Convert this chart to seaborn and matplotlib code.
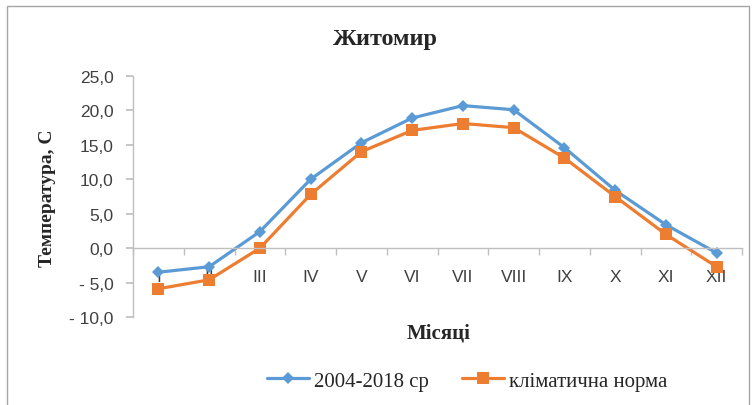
import matplotlib
matplotlib.use("Agg")
import matplotlib.pyplot as plt
import seaborn as sns
import pandas as pd
from matplotlib.ticker import FuncFormatter, FixedLocator
from matplotlib.patches import Rectangle
from matplotlib.lines import Line2D

months = ["I", "II", "III", "IV", "V", "VI", "VII", "VIII", "IX", "X", "XI", "XII"]
avg_2004_2018 = [-3.5, -2.7, 2.4, 10.0, 15.3, 18.9, 20.7, 20.1, 14.6, 8.4, 3.4, -0.7]
climate_norm = [-5.9, -4.6, 0.0, 7.8, 14.0, 17.1, 18.1, 17.5, 13.1, 7.5, 2.0, -2.7]
series_names = ["2004-2018 ср", "кліматична норма"]
title = "Житомир"
xlabel = "Місяці"
ylabel = "Температура, С"

df = pd.DataFrame({
    "month": months * 2,
    "pos": list(range(len(months))) * 2,
    "temp": avg_2004_2018 + climate_norm,
    "series": [series_names[0]] * len(months) + [series_names[1]] * len(months),
})

sns.set_theme(style="white")
plt.rcParams["font.family"] = ["Liberation Sans", "DejaVu Sans"]

blue = "#5B9BD5"
orange = "#ED7D31"
gray = "#BFBFBF"

fig = plt.figure(figsize=(7.56, 4.06), dpi=100)
ax = fig.add_axes([133 / 756, 1 - 318 / 406, (742 - 133) / 756, (318 - 77) / 406])

sns.lineplot(data=df, x="pos", y="temp", hue="series", style="series",
             palette=[blue, orange], markers=["D", "s"], dashes=False,
             linewidth=2.3, markersize=6, markeredgewidth=0, ax=ax, legend=False)
lines = ax.get_lines()
if len(lines) >= 2:
    lines[0].set_markersize(6)
    lines[1].set_markersize(8)

ax.set_xlim(-0.5, len(months) - 0.5)
ax.set_ylim(-10, 25)
ax.set_yticks(range(-10, 30, 5))
ax.yaxis.set_major_formatter(FuncFormatter(
    lambda v, p: ("- " if v < 0 else "") + f"{abs(v):.1f}".replace(".", ",")))

ax.set_xticks(range(len(months)))
ax.set_xticklabels(months)
ax.xaxis.set_minor_locator(FixedLocator([i - 0.5 for i in range(len(months) + 1)]))

for s in ["top", "right"]:
    ax.spines[s].set_visible(False)
ax.spines["left"].set_color(gray)
ax.spines["bottom"].set_color(gray)
ax.spines["bottom"].set_position(("data", 0))
ax.spines["left"].set_linewidth(1)
ax.spines["bottom"].set_linewidth(1)

ax.tick_params(axis="y", which="major", length=5, color=gray, direction="out",
               labelsize=12.5, labelcolor="#404040", pad=9, left=True)
ax.tick_params(axis="x", which="major", length=0, labelsize=12.5,
               labelcolor="#404040", pad=15)
ax.tick_params(axis="x", which="minor", length=5, color=gray, direction="out",
               bottom=True)

ax.set_xlabel("")
ax.set_ylabel("")
ax.grid(False)

serif = ["Liberation Serif", "DejaVu Serif"]
fig.text(385 / 756, 1 - 40 / 406, title, ha="center", va="center",
         fontsize=17.5, fontweight="bold", family=serif)
fig.text(439 / 756, 1 - 333 / 406, xlabel, ha="center", va="center",
         fontsize=15, fontweight="bold", family=serif)
fig.text(47 / 756, 1 - 198 / 406, ylabel, ha="center", va="center",
         rotation=90, fontsize=14, fontweight="bold", family=serif)

handles = [
    Line2D([], [], color=blue, lw=2.3, marker="D", markersize=6, markeredgewidth=0),
    Line2D([], [], color=orange, lw=2.3, marker="s", markersize=8, markeredgewidth=0),
]
fig.legend(handles, series_names, loc="center", bbox_to_anchor=(467 / 756, 1 - 382 / 406),
           ncol=2, frameon=False, prop={"family": serif, "size": 15},
           handlelength=2.0, columnspacing=1.6, handletextpad=0.25)

fig.patches.append(Rectangle((7 / 756, -0.05), (749 - 7) / 756, 1 - 7 / 406 + 0.05,
                             transform=fig.transFigure, fill=False,
                             edgecolor="#A6A6A6", linewidth=1))

fig.savefig("out.png", dpi=100)
